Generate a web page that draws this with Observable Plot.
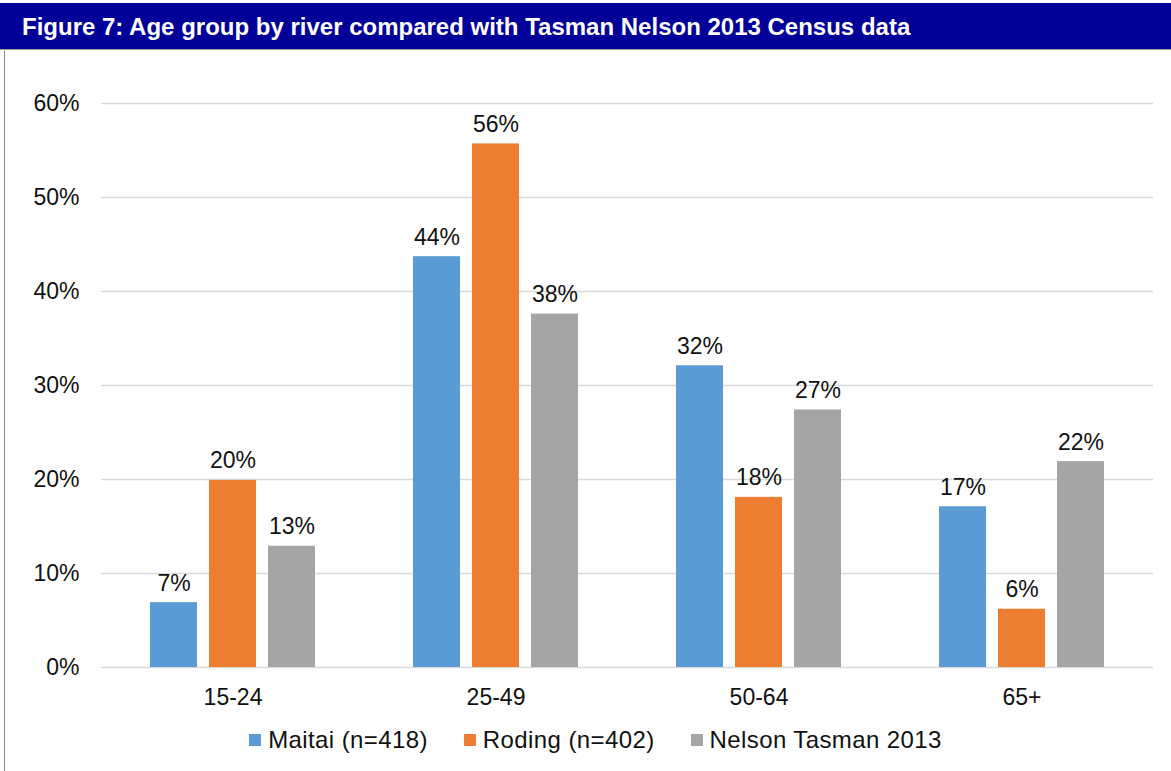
<!DOCTYPE html>
<html>
<head>
<meta charset="utf-8">
<script src="https://cdn.jsdelivr.net/npm/d3@7"></script>
<script src="https://cdn.jsdelivr.net/npm/@observablehq/plot@0.6"></script>
<style>
  html, body { margin: 0; padding: 0; background: #fff; }
  body { width: 1171px; height: 771px; position: relative; overflow: hidden; font-family: "Liberation Sans", Arial, sans-serif; }
  #title { position: absolute; left: 0; top: 3px; width: 1171px; height: 47px; background: #000099; color: #fff;
           font-weight: bold; font-size: 24px; line-height: 48px; box-sizing: border-box; padding-left: 22px;
           border-bottom: 1px solid #999; white-space: nowrap; }
  #leftline { position: absolute; left: 4px; top: 51px; width: 1px; height: 720px; background: #888; }
  #chart { position: absolute; left: 0; top: 51px; }
  #legend { position: absolute; top: 725px; left: 0; width: 1171px; box-sizing: border-box; padding-left: 20px;
            display: flex; justify-content: center;
            font-size: 24px; letter-spacing: 0.4px; color: #111; line-height: 30px; }
  .item { display: flex; align-items: center; margin: 0 18px; }
  .sw { width: 12px; height: 12px; margin-right: 7px; }
</style>
</head>
<body>
<div id="title">Figure 7: Age group by river compared with Tasman Nelson 2013 Census data</div>
<div id="leftline"></div>
<div id="chart"></div>
<div id="legend"></div>
<script>
const groups = ["15-24", "25-49", "50-64", "65+"];
const series = ["Maitai (n=418)", "Roding (n=402)", "Nelson Tasman 2013"];
const colors = ["#5B9BD5", "#ED7D31", "#A5A5A5"];
const maitai = [0.069, 0.437, 0.321, 0.171];
const roding = [0.199, 0.557, 0.181, 0.062];
const nelson = [0.129, 0.376, 0.274, 0.219];
const yTicks = [0, 0.1, 0.2, 0.3, 0.4, 0.5, 0.6];

const seriesValues = [maitai, roding, nelson];
const data = [];
groups.forEach((g, i) => series.forEach((s, j) => data.push({group: g, series: s, value: seriesValues[j][i]})));

const font = "Liberation Sans, Arial, sans-serif";
const chart = Plot.plot({
  width: 1171,
  height: 660,
  marginLeft: 100,
  marginRight: 18,
  marginTop: 52,
  marginBottom: 44,
  style: {fontFamily: font, fontSize: "23px", color: "#111", background: "transparent", overflow: "visible"},
  fx: {domain: groups, padding: 0, label: null, axis: "bottom", tickSize: 0, tickPadding: 21},
  x: {domain: series, paddingInner: 0.2, paddingOuter: 0.8, axis: null},
  y: {domain: [0, 0.6], ticks: yTicks, tickFormat: d3.format(".0%"), tickSize: 0, tickPadding: 22, label: null},
  color: {domain: series, range: colors},
  marks: [
    Plot.ruleY(yTicks, {stroke: "#D9D9D9", strokeWidth: 1.4}),
    Plot.barY(data, {fx: "group", x: "series", y: "value", fill: "series"}),
    Plot.text(data, {fx: "group", x: "series", y: "value", text: d => d3.format(".0%")(d.value),
      lineAnchor: "bottom", dy: -12, fontSize: 23, fill: "#111"})
  ]
});
document.getElementById("chart").appendChild(chart);

const legend = document.getElementById("legend");
series.forEach((s, i) => {
  const item = document.createElement("div");
  item.className = "item";
  const sw = document.createElement("div");
  sw.className = "sw";
  sw.style.background = colors[i];
  const t = document.createElement("span");
  t.textContent = s;
  item.appendChild(sw); item.appendChild(t);
  legend.appendChild(item);
});
</script>
</body>
</html>
